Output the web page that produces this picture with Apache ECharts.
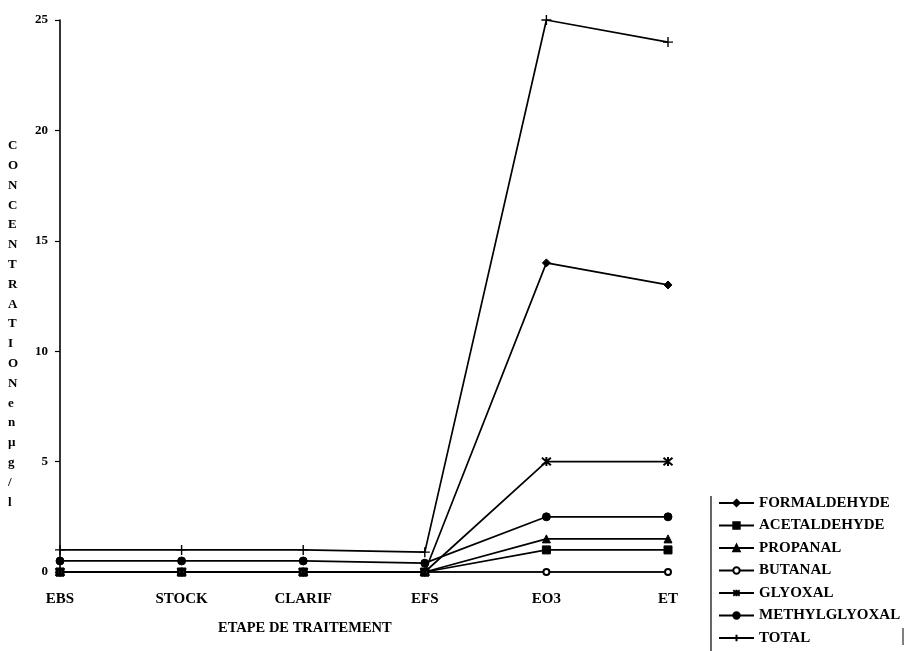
<!DOCTYPE html>
<html><head><meta charset="utf-8">
<script src="https://cdn.jsdelivr.net/npm/echarts@6/dist/echarts.min.js"></script>
<style>html,body{margin:0;padding:0;background:#fff}#c{width:905px;height:651px}</style>
</head><body><div id="c"></div>
<script>
var categories = ['EBS','STOCK','CLARIF','EFS','EO3','ET'];
var formaldehyde = [0, 0, 0, 0, 14, 13];
var acetaldehyde = [0, 0, 0, 0, 1, 1];
var propanal = [0, 0, 0, 0, 1.5, 1.5];
var butanal = [0, 0, 0, 0, 0, 0];
var glyoxal = [0, 0, 0, 0, 5, 5];
var methylglyoxal = [0.5, 0.5, 0.5, 0.4, 2.5, 2.5];
var total = [1, 1, 1, 0.9, 25, 24];
var yTicks = [0, 5, 10, 15, 20, 25];
var yNameLetters = ['C','O','N','C','E','N','T','R','A','T','I','O','N','e','n','µ','g','/','l'];

var FONT = '"Liberation Serif", "DejaVu Serif", serif';
var star = 'path://M0,0L10,10M10,0L0,10M5,-1L5,11';
var plus = 'path://M5,0L5,10M0,5L10,5';

function mk(name, data, symbol, size, extra) {
  var s = {
    name: name, type: 'line', data: data, symbol: symbol, symbolSize: size,
    lineStyle: {color: '#000', width: 1.7},
    itemStyle: {color: '#000', borderColor: '#000', borderWidth: 1},
    animation: false
  };
  if (extra) for (var k in extra) s[k] = extra[k];
  return s;
}

var chart = echarts.init(document.getElementById('c'));
chart.setOption({
  backgroundColor: '#fff',
  animation: false,
  grid: {left: 60, right: 237, top: 20, bottom: 79},
  xAxis: {
    type: 'category', data: categories, boundaryGap: false,
    axisLine: {lineStyle: {color: '#000', width: 1.6}},
    axisTick: {show: true, length: 4, inside: false, lineStyle: {color: '#000', width: 1.2}},
    axisLabel: {color: '#000', fontFamily: FONT, fontWeight: 'bold', fontSize: 15, margin: 20}
  },
  yAxis: {
    type: 'value', min: 0, max: 25, interval: 5,
    axisLine: {show: true, lineStyle: {color: '#000', width: 1.6}},
    axisTick: {show: true, length: 5, lineStyle: {color: '#000', width: 1.2}},
    splitLine: {show: false},
    axisLabel: {color: '#000', fontFamily: FONT, fontWeight: 'bold', fontSize: 13, margin: 12,
      formatter: function (v) { return yTicks.indexOf(v) >= 0 ? String(v) : ''; }}
  },
  legend: {
    orient: 'vertical', left: 713, top: 490, height: 161, itemWidth: 35, itemHeight: 8, itemGap: 6.5,
    textStyle: {color: '#000', fontFamily: FONT, fontWeight: 'bold', fontSize: 15, lineHeight: 16},
    data: ['FORMALDEHYDE','ACETALDEHYDE','PROPANAL','BUTANAL','GLYOXAL','METHYLGLYOXAL','TOTAL']
  },
  graphic: [
    {type: 'line', shape: {x1: 711, y1: 496, x2: 711, y2: 651}, style: {stroke: '#000', lineWidth: 1.2}},
    {type: 'line', shape: {x1: 903, y1: 628, x2: 903, y2: 645}, style: {stroke: '#000', lineWidth: 1}},
    {type: 'text', left: 8, top: 136, style: {text: yNameLetters.join('\n'), fill: '#000',
      font: 'bold 13px ' + FONT, lineHeight: 19.8, align: 'center', width: 14}},
    {type: 'text', left: 218, top: 621, style: {text: 'ETAPE DE TRAITEMENT', fill: '#000',
      font: 'bold 14.5px ' + FONT}}
  ],
  series: [
    mk('FORMALDEHYDE', formaldehyde, 'diamond', 8),
    mk('ACETALDEHYDE', acetaldehyde, 'rect', 8),
    mk('PROPANAL', propanal, 'triangle', 8),
    mk('BUTANAL', butanal, 'emptyCircle', 6, {itemStyle: {color: '#000', borderWidth: 1.2}}),
    mk('GLYOXAL', glyoxal, star, 9, {itemStyle: {color: '#000', borderColor: '#000', borderWidth: 2}}),
    mk('METHYLGLYOXAL', methylglyoxal, 'circle', 8),
    mk('TOTAL', total, plus, 10, {itemStyle: {color: '#000', borderColor: '#000', borderWidth: 1.4}})
  ]
});
</script></body></html>
